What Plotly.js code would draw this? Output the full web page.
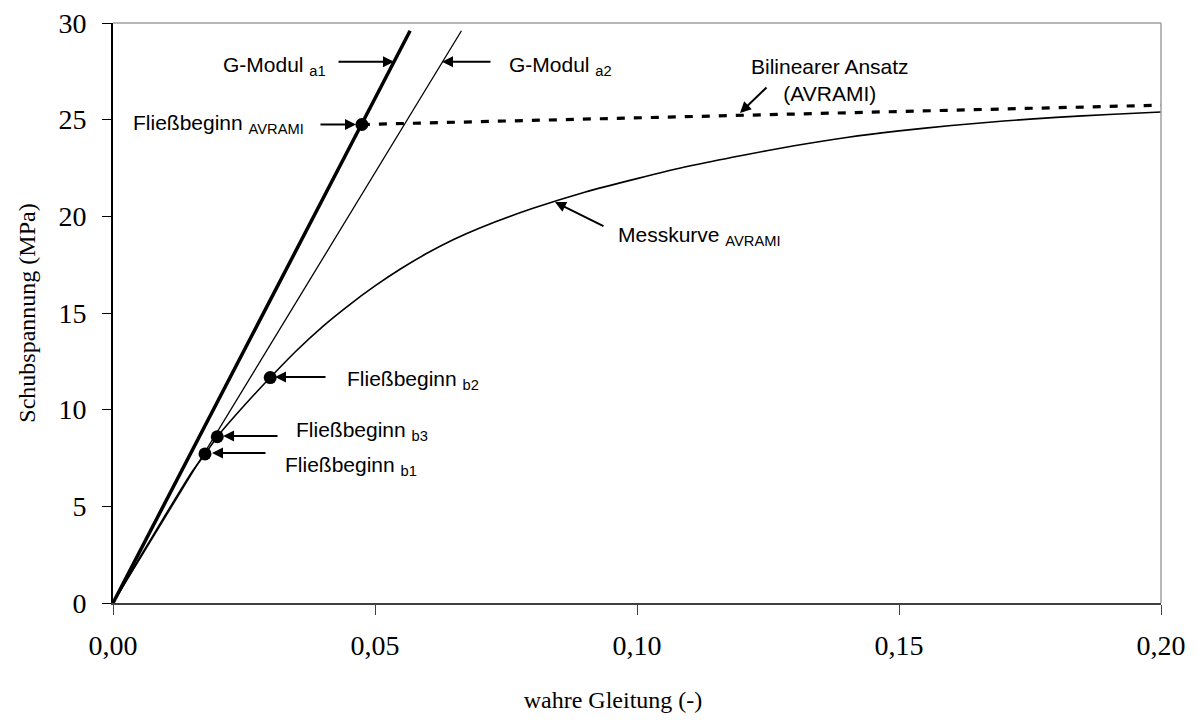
<!DOCTYPE html>
<html>
<head>
<meta charset="utf-8">
<script src="https://cdn.plot.ly/plotly-3.0.1.min.js"></script>
<style>
  html, body { margin: 0; padding: 0; background: #ffffff; }
  #chart { width: 1196px; height: 726px; }
</style>
</head>
<body>
<div id="chart"></div>
<script>
// ---- Data ----
// Messkurve AVRAMI (measured curve): wahre Gleitung (-) vs. Schubspannung (MPa)
const messX = [0, 0.005, 0.010, 0.015, 0.0176, 0.0199, 0.025, 0.030, 0.035, 0.040, 0.045, 0.050, 0.055, 0.060, 0.065, 0.070, 0.080, 0.090, 0.100, 0.110, 0.120, 0.130, 0.140, 0.150, 0.160, 0.170, 0.180, 0.190, 0.200];
const messY = [0, 2.30, 4.55, 6.75, 7.71, 8.60, 10.20, 11.66, 13.05, 14.30, 15.40, 16.40, 17.30, 18.10, 18.80, 19.40, 20.40, 21.25, 21.95, 22.60, 23.15, 23.65, 24.08, 24.42, 24.70, 24.93, 25.12, 25.27, 25.40];

// G-Modul a1 (thick tangent line)
const gA1X = [0, 0.0567];
const gA1Y = [0, 29.6];

// G-Modul a2 (thin secant line)
const gA2X = [0, 0.0665];
const gA2Y = [0, 29.6];

// Bilinearer Ansatz (AVRAMI), dashed
const bilinX = [0.0475, 0.200];
const bilinY = [24.75, 25.75];

// Fließbeginn points
const pointNames = ['AVRAMI', 'b1', 'b3', 'b2'];
const pointX = [0.0475, 0.01756, 0.0199, 0.0300];
const pointY = [24.75, 7.71, 8.60, 11.66];

// Axis ticks
const xTicks = [0, 0.05, 0.10, 0.15, 0.20];
const yTicks = [0, 5, 10, 15, 20, 25, 30];

// ---- Chart ----
const labelFont = { family: 'Liberation Sans, Arial, sans-serif', size: 21, color: '#000000' };
const serif = 'Liberation Serif, Times New Roman, serif';

const traces = [
  { x: messX, y: messY, mode: 'lines', name: 'Messkurve AVRAMI',
    line: { color: '#000000', width: 1.6, shape: 'spline', smoothing: 0.6 }, hoverinfo: 'x+y' },
  { x: gA1X, y: gA1Y, mode: 'lines', name: 'G-Modul a1',
    line: { color: '#000000', width: 3.5 } },
  { x: gA2X, y: gA2Y, mode: 'lines', name: 'G-Modul a2',
    line: { color: '#000000', width: 1.3 } },
  { x: bilinX, y: bilinY, mode: 'lines', name: 'Bilinearer Ansatz (AVRAMI)',
    line: { color: '#000000', width: 3.2, dash: '8px,9px' } },
  { x: pointX, y: pointY, mode: 'markers', name: 'Fließbeginn', text: pointNames,
    marker: { color: '#000000', size: 13, symbol: 'circle' }, cliponaxis: false }
];

function arrow(tx, ty, hx, hy) {
  return { x: hx, y: hy, ax: tx, ay: ty, xref: 'x', yref: 'y', axref: 'x', ayref: 'y',
    text: '', showarrow: true, arrowhead: 2, arrowsize: 1.1, arrowwidth: 2,
    arrowcolor: '#000000', standoff: 0, startstandoff: 0 };
}
function label(txt, x, y, anchor, align) {
  return { x: x, y: y, xref: 'x', yref: 'y', text: txt, showarrow: false,
    xanchor: anchor || 'left', yanchor: 'middle', align: align || 'left', font: labelFont };
}

const annotations = [
  arrow(0.04275, 27.99, 0.05363, 27.99),
  arrow(0.07233, 27.99, 0.06279, 27.99),
  arrow(0.03931, 24.75, 0.04637, 24.75),
  arrow(0.1250, 26.74, 0.11966, 25.35),
  arrow(0.09389, 19.45, 0.08435, 20.74),
  arrow(0.04084, 11.69, 0.03092, 11.69),
  arrow(0.03168, 8.64, 0.0210, 8.64),
  arrow(0.02939, 7.76, 0.01889, 7.76),
  label('G-Modul <sub>a1</sub>', 0.02055, 27.8),
  label('G-Modul <sub>a2</sub>', 0.07519, 27.8),
  label('Fließbeginn <sub>AVRAMI</sub>', 0.003435, 24.8),
  label('Bilinearer Ansatz<br>(AVRAMI)', 0.1368, 27.05, 'center', 'center'),
  label('Messkurve <sub>AVRAMI</sub>', 0.09599, 19.0),
  label('Fließbeginn <sub>b2</sub>', 0.04427, 11.55),
  label('Fließbeginn <sub>b3</sub>', 0.0346, 8.9),
  label('Fließbeginn <sub>b1</sub>', 0.0325, 7.07)
];

const layout = {
  width: 1196, height: 726,
  margin: { l: 113, r: 35, t: 23, b: 123 },
  paper_bgcolor: '#ffffff', plot_bgcolor: '#ffffff',
  showlegend: false,
  separators: ',.',
  xaxis: {
    range: [0, 0.20], tickvals: xTicks, tickformat: '.2f',
    showgrid: false, zeroline: false,
    showline: true, linecolor: '#404040', linewidth: 2,
    ticks: 'outside', ticklen: 10, tickwidth: 1, tickcolor: '#404040',
    tickfont: { family: serif, size: 28, color: '#000000' },
    ticklabelstandoff: 6,
    title: { text: 'wahre Gleitung (-)' + '\u00A0'.repeat(8) + '\u200B', font: { family: serif, size: 24, color: '#000000' }, standoff: 32 },
    automargin: false, fixedrange: true
  },
  yaxis: {
    range: [0, 30], tickvals: yTicks,
    showgrid: false, zeroline: false,
    showline: true, linecolor: '#000000', linewidth: 2,
    ticks: 'outside', ticklen: 9, tickwidth: 1, tickcolor: '#000000',
    tickfont: { family: serif, size: 28, color: '#000000' },
    ticklabelstandoff: 10,
    title: { text: 'Schubspannung (MPa)', font: { family: serif, size: 24, color: '#000000' }, standoff: 16 },
    automargin: false, fixedrange: true
  },
  shapes: [
    { type: 'line', xref: 'paper', yref: 'paper', x0: 0, x1: 1, y0: 1, y1: 1, line: { color: '#a0a0a0', width: 1.5 } },
    { type: 'line', xref: 'paper', yref: 'paper', x0: 1, x1: 1, y0: 0, y1: 1, line: { color: '#a0a0a0', width: 1.5 } }
  ],
  annotations: annotations,
  font: { family: serif, color: '#000000' }
};

Plotly.newPlot('chart', traces, layout, { displayModeBar: false, staticPlot: true });
</script>
</body>
</html>
